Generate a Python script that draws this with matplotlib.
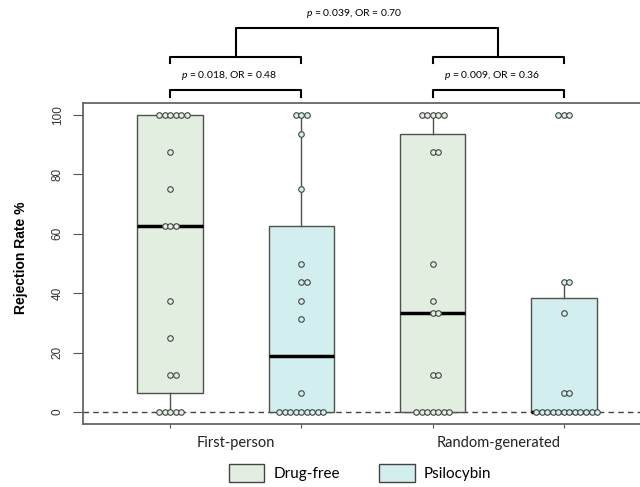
import numpy as np
import matplotlib
matplotlib.use("Agg")
import matplotlib.pyplot as plt
from matplotlib.patches import Patch

plt.rcParams['font.family'] = ['Liberation Sans', 'DejaVu Sans']
plt.rcParams['mathtext.fontset'] = 'custom'
plt.rcParams['mathtext.it'] = 'Lato:italic'
plt.rcParams['mathtext.rm'] = 'Lato'

# rejection rates per participant, one list per box
first_drugfree = [0]*5 + [12.5]*2 + [25, 37.5] + [62.5]*3 + [75, 87.5] + [100]*6
first_psilo = [0]*9 + [6.25, 31.25, 37.5, 43.75, 43.75, 50, 75, 93.75] + [100]*3
random_drugfree = [0]*7 + [12.5]*2 + [33.33]*2 + [37.5, 50] + [87.5]*2 + [100]*5
random_psilo = [0]*12 + [6.25]*2 + [33.33] + [43.75]*2 + [100]*3

groups = [first_drugfree, first_psilo, random_drugfree, random_psilo]
positions = [1, 2, 3, 4]
conditions = ["Drug-free", "Psilocybin"]
categories = ["First-person", "Random-generated"]
colors = ["#e2efe0", "#d3eeee"]
box_colors = [colors[0], colors[1], colors[0], colors[1]]

pairs = [(1, 2, "$p$ = 0.018, OR = 0.48"), (3, 4, "$p$ = 0.009, OR = 0.36")]
top_text = "$p$ = 0.039, OR = 0.70"


def fivenum(v):
    # Tukey hinges, like R's boxplot
    x = np.sort(np.asarray(v, dtype=float))
    n = len(x)
    n4 = np.floor((n + 3) / 2) / 2
    d = np.array([1, n4, (n + 1) / 2, n + 1 - n4, n]) - 1
    return 0.5 * (x[np.floor(d).astype(int)] + x[np.ceil(d).astype(int)])


stats = []
for g in groups:
    lo, q1, med, q3, hi = fivenum(g)
    iqr = q3 - q1
    arr = np.array(g)
    whishi = arr[arr <= q3 + 1.5 * iqr].max()
    whislo = arr[arr >= q1 - 1.5 * iqr].min()
    stats.append(dict(med=med, q1=q1, q3=q3, whislo=whislo, whishi=whishi, fliers=[]))

fig = plt.figure(figsize=(6.4, 4.87), dpi=100)
ax = fig.add_axes([83/640, 63/487, 568/640, 321/487])

ax.axhline(0, color="#444444", lw=1, ls=(0, (4, 3)), zorder=1)

bp = ax.bxp(stats, positions=positions, widths=0.5, patch_artist=True,
            showcaps=False, showfliers=False,
            boxprops=dict(edgecolor="#505050", linewidth=1),
            whiskerprops=dict(color="#505050", linewidth=1),
            medianprops=dict(color="black", linewidth=2.5))
for patch, c in zip(bp['boxes'], box_colors):
    patch.set_facecolor(c)
    patch.set_zorder(2)

# dots stacked sideways, centred on whole dots
step = 0.042
for pos, g, c in zip(positions, groups, box_colors):
    vals, counts = np.unique(g, return_counts=True)
    for v, k in zip(vals, counts):
        offs = (np.arange(k) - (k - 1) // 2) * step
        ax.plot(pos + offs, [v]*k, 'o', ms=4, mfc=c, mec="#444444", mew=0.8,
                zorder=4, clip_on=False)

ax.set_xlim(0.337, 4.663)
ax.set_ylim(-4.04, 104.04)
ax.set_yticks([0, 20, 40, 60, 80, 100])
ax.tick_params(axis='y', length=7, pad=7, labelsize=8.5, labelcolor="#333333",
               labelrotation=90, color="#555555")
for lab in ax.get_yticklabels():
    lab.set_verticalalignment('center')
ax.set_xticks(positions)
ax.set_xticklabels([])
ax.tick_params(axis='x', which='major', length=3, color="#555555")
ax.set_xticks([1.5, 3.5], categories, minor=True)
ax.tick_params(axis='x', which='minor', length=0, pad=9, labelsize=10.5,
               labelcolor="#222222")
for lab in ax.get_xticklabels(minor=True):
    lab.set_family(['Lato', 'DejaVu Sans'])

for s in ['top', 'bottom', 'left']:
    ax.spines[s].set_color("#666666")
    ax.spines[s].set_linewidth(1.3)
ax.spines['right'].set_visible(False)

fig.text(21/640, 1 - 258/487, "Rejection Rate %", rotation=90, fontsize=10,
         fontweight='bold', ha='center', va='center')

# significance brackets
for a, b, txt in pairs:
    ax.plot([a, a, b, b], [106.0, 108.4, 108.4, 106.0], color='black', lw=1.5,
            clip_on=False)
    ax.text((a + b) / 2 - 0.05, 113.4, txt, ha='center', va='center', fontsize=7.5,
            family=['Lato', 'DejaVu Sans'])
    ax.plot([a, a, b, b], [117.4, 119.6, 119.6, 117.4], color='black', lw=1.5,
            clip_on=False)
ax.plot([1.5, 1.5, 3.5, 3.5], [119.6, 129.3, 129.3, 119.6], color='black', lw=1.5,
        clip_on=False)
ax.text(2.4, 134.2, top_text, ha='center', va='center', fontsize=7.5,
        family=['Lato', 'DejaVu Sans'])

handles = [Patch(facecolor=c, edgecolor="#444444", linewidth=1) for c in colors]
fig.legend(handles, conditions, loc='center', bbox_to_anchor=(360/640, 1 - 473/487),
           ncol=2, frameon=False, handlelength=2.3, handleheight=1.45,
           handletextpad=0.6, columnspacing=2.6,
           prop=dict(family=['Lato', 'DejaVu Sans'], size=11))

fig.savefig("out.png", dpi=100)
